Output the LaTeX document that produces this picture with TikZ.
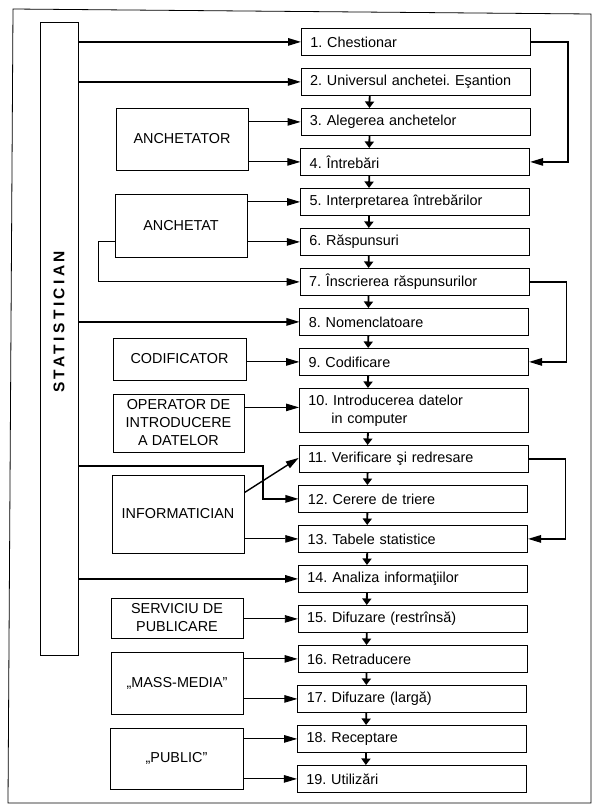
\documentclass[tikz,border=0pt]{standalone}
\usepackage{fontspec}
\setmainfont{Liberation Sans}
\usetikzlibrary{arrows.meta}
\begin{document}
\frenchspacing
\begin{tikzpicture}[x=1pt,y=-1pt,font=\fontsize{14.4}{18}\selectfont,
  mbox/.style={draw,line width=0.8pt,anchor=north west,inner xsep=9pt,inner ysep=0pt,
    text width=211pt,align=left,minimum width=229pt},
  abox/.style={draw,line width=0.8pt,inner sep=0pt,align=center},
  sarr/.style={line width=1.4pt,-{Triangle[length=13pt,width=7.5pt]}},
  aarr/.style={line width=0.9pt,-{Triangle[length=13pt,width=7.5pt]}},
  darr/.style={line width=1.8pt,-{Triangle[length=6.5pt,width=9pt]}}]
\useasboundingbox (0,0) rectangle (595,806);
% outer frame
\draw[line width=0.8pt] (13,9) -- (591,14) -- (591,803) -- (8,803) -- cycle;
% main boxes
\foreach \n/\t/\h/\txt in {
  1/28/27/{1. Chestionar},
  2/68/27/{2. Universul anchetei. Eşantion},
  3/108/27/{3. Alegerea anchetelor},
  4/148/27/{4. Întrebări},
  5/188/27/{5. Interpretarea întrebărilor},
  6/228/27/{6. Răspunsuri},
  7/268/27/{7. Înscrierea răspunsurilor},
  8/308/27/{8. Nomenclatoare},
  9/348/27/{9. Codificare},
  10/388/44/{10. Introducerea datelor\\\hspace*{23pt}in computer},
  11/445/27/{11. Verificare şi redresare},
  12/485/27/{12. Cerere de triere},
  13/525/27/{13. Tabele statistice},
  14/565/27/{14. Analiza informaţiilor},
  15/605/27/{15. Difuzare (restrînsă)},
  16/645/27/{16. Retraducere},
  17/685/27/{17. Difuzare (largă)},
  18/725/27/{18. Receptare},
  19/765/27/{19. Utilizări}}{
  \pgfmathsetmacro\xl{301-0.0055*(\t-28)}
  \node[mbox,minimum height=\h pt] (b\n) at (\xl,\t) {\txt};
}
% down arrows
\foreach \i [evaluate=\i as \j using int(\i+1)] in {2,...,18}
  \draw[darr] ([xshift=-46pt]b\i.south) -- ([xshift=-46pt]b\j.north);
% statistician
\node[draw,line width=0.8pt,minimum width=38pt,minimum height=633pt,inner sep=0pt] (stat) at (59,338.5) {};
\node[rotate=90,font=\bfseries\fontsize{15.5}{15.5}\selectfont] (stattext) at (59,322)
  {\addfontfeature{LetterSpace=22}STATISTICIAN};
% actors
\node[abox,minimum width=132pt,minimum height=62pt] (anchetator) at (182,139) {ANCHETATOR};
\node[abox,minimum width=132pt,minimum height=63pt] (anchetat) at (181,225.5) {ANCHETAT};
\node[abox,minimum width=133pt,minimum height=42pt] (codif) at (179.5,359) {CODIFICATOR};
\node[abox,minimum width=131pt,minimum height=58pt] (operator) at (178.5,423) {OPERATOR DE\\INTRODUCERE\\A DATELOR};
\node[abox,minimum width=132pt,minimum height=78pt] (inform) at (178,514) {INFORMATICIAN};
\node[abox,minimum width=132pt,minimum height=40pt] (serv) at (177,618) {SERVICIU DE\\PUBLICARE};
\node[abox,minimum width=132pt,minimum height=62pt] (mass) at (177,683) {„MASS-MEDIA”};
\node[abox,minimum width=133pt,minimum height=61pt] (public) at (176.5,758.5) {„PUBLIC”};
% actor arrows
\draw[aarr] (anchetator.east |- b3.west) -- (b3.west);
\draw[aarr] (anchetator.east |- b4.west) -- (b4.west);
\draw[aarr] (anchetat.east |- b5.west) -- (b5.west);
\draw[aarr] (anchetat.east |- b6.west) -- (b6.west);
\draw[aarr] (anchetat.west |- b6.west) -- ++(-16,0) |- (b7.west);
\draw[aarr] (codif.east |- b9.west) -- (b9.west);
\draw[aarr] ([yshift=3pt]b10.west -| operator.east) -- ([yshift=3pt]b10.west);
\draw[sarr] ([yshift=-18pt]inform.north east) -- ([yshift=1pt]b11.west);
\draw[aarr] (inform.east |- b13.west) -- (b13.west);
\draw[aarr] (serv.east |- b15.west) -- (b15.west);
\draw[aarr] (mass.east |- b16.west) -- (b16.west);
\draw[aarr] (mass.east |- b17.west) -- (b17.west);
\draw[aarr] (public.east |- b18.west) -- (b18.west);
\draw[aarr] (public.east |- b19.west) -- (b19.west);
% statistician arrows
\draw[sarr] (stat.east |- b1.west) -- (b1.west);
\draw[sarr] (stat.east |- b2.west) -- (b2.west);
\draw[sarr] (stat.east |- b8.west) -- (b8.west);
\coordinate (k12) at (263,466);
\draw[sarr] (stat.east |- k12) -- (k12) |- (b12.west);
\draw[sarr] (stat.east |- b14.west) -- (b14.west);
% right feedback connectors
\draw[sarr] (b1.east) -- ++(37,0) |- (b4.east);
\draw[sarr] (b7.east) -- ++(37,0) |- (b9.east);
\draw[sarr] (b11.east) -- ++(37,0) |- (b13.east);
\end{tikzpicture}
\end{document}
